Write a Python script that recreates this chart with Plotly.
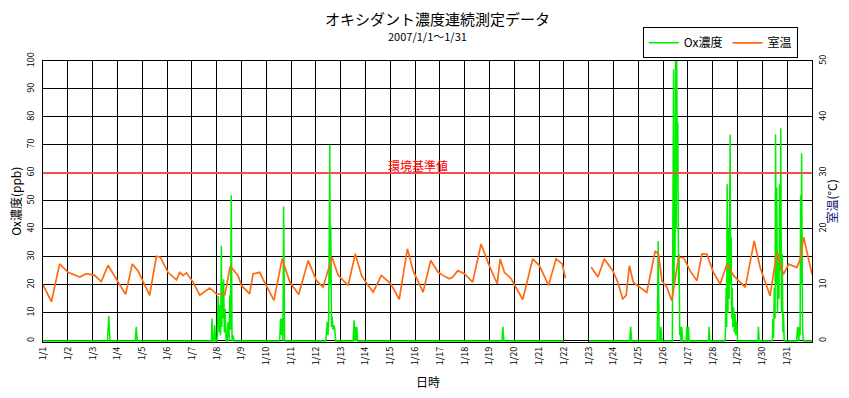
import plotly.graph_objects as go

# ---- data (x = days since 2007-01-01 00:00) ----
day_labels = [f"1/{d}" for d in range(1, 32)]

# Ox concentration (ppb), left axis
ox_day = [0.00, 2.60, 2.65, 2.70, 3.72, 3.76, 3.80,
          6.79, 6.81, 6.85, 6.90, 6.92, 6.96, 7.02, 7.06, 7.10, 7.12, 7.16, 7.19, 7.21, 7.23, 7.26,
          7.28, 7.31, 7.34, 7.38, 7.42, 7.46, 7.50, 7.53, 7.56, 7.59, 7.62, 7.66, 7.70,
          9.54, 9.58, 9.61, 9.64, 9.67, 9.70, 9.74,
          11.40, 11.46, 11.49, 11.52, 11.56, 11.58, 11.60, 11.63, 11.65, 11.69, 11.72, 11.76, 11.80,
          12.50, 12.54, 12.57, 12.59, 12.62, 12.65, 12.68,
          18.50, 18.54, 18.58, 21.00, 21.50, 22.00,
          23.65, 23.69, 23.73,
          24.76, 24.80, 24.84, 24.88, 24.91, 24.95,
          25.37, 25.42, 25.44, 25.46, 25.48, 25.50, 25.53, 25.55, 25.57, 25.59, 25.62, 25.64, 25.67,
          25.69, 25.72, 25.73, 25.75, 25.78, 25.93, 25.95, 25.97, 26.00, 26.02, 26.05,
          26.83, 26.85, 26.88,
          27.50, 27.54, 27.56, 27.58, 27.61, 27.63, 27.66, 27.70, 27.72, 27.74, 27.76, 27.78, 27.81,
          27.84, 27.87, 27.90, 27.93, 27.97, 28.00,
          28.82, 28.84, 28.87,
          29.40, 29.42, 29.45, 29.48, 29.51, 29.53, 29.56, 29.58, 29.61, 29.64, 29.67, 29.69, 29.72,
          29.74, 29.77, 29.80, 29.83, 29.85, 29.88,
          30.38, 30.42, 30.45, 30.47, 30.49, 30.52, 30.54, 30.56, 30.58, 30.60, 30.62, 30.65, 31.00]
ox_ppb = [0, 0, 9, 0, 0, 5, 0,
          0, 8, 0, 0, 5.6, 0, 0, 16, 3, 12.7, 2, 34, 5, 21, 8,
          22, 3, 11.5, 0, 0, 6.8, 0, 16.3, 4, 52, 0, 2, 0,
          0, 8, 2, 8, 0, 48, 0,
          0, 6.8, 2, 10.3, 70, 20, 41, 5, 9, 4, 5.6, 4.4, 0,
          0, 7.4, 0, 5, 0, 5, 0,
          0, 5, 0, 0, None, 0,
          0, 5, 0,
          0, 35.7, 0, 0, 5, 0,
          0, 97, 20, 66, 30, 100, 40, 100, 60, 78, 20, 31, 2,
          5, 0, 0, 5, 0, 0, 5, 0, 0, 5, 0,
          0, 5, 0,
          0, 19, 5, 56, 10, 40, 15, 73.7, 20, 37, 8, 19, 5,
          12, 3, 9.6, 2, 7, 0,
          0, 5, 0,
          0, 7.8, 1, 19, 8, 73.7, 20, 54.7, 10, 31, 15, 56, 25,
          76, 10, 31, 3, 9.6, 0,
          0, 5, 0, 0, 5, 2, 52, 20, 67, 10, 5, 0, 0]

# Room temperature (deg C), right axis
temp_day = [0.00, 0.34, 0.67, 1.01, 1.48, 1.75, 2.08, 2.35, 2.62, 2.76, 3.33, 3.60, 3.83, 4.30,
            4.57, 4.73, 5.04, 5.38, 5.51, 5.65, 5.78, 6.05, 6.32, 6.72, 6.99, 7.33, 7.55, 7.86,
            8.00, 8.33, 8.47, 8.74, 8.87, 9.31, 9.64, 9.95, 10.31, 10.69, 11.02, 11.29, 11.65,
            11.90, 12.30, 12.59, 12.84, 13.01, 13.31, 13.64, 14.02, 14.36, 14.69, 14.92, 15.32,
            15.63, 15.93, 16.12, 16.38, 16.52, 16.72, 16.99, 17.32, 17.66, 17.99, 18.31, 18.43,
            18.60, 18.87, 19.34, 19.74, 20.01, 20.38, 20.68, 20.93, 21.06, 21.50,
            22.10, 22.37, 22.63, 22.97, 23.17, 23.37, 23.51, 23.64, 23.80, 24.07, 24.34, 24.68,
            24.81, 24.95, 25.15, 25.35, 25.62, 25.82, 26.09, 26.36, 26.56, 26.76, 27.03, 27.30,
            27.57, 27.84, 28.04, 28.31, 28.67, 28.91, 29.31, 29.58, 29.85, 30.06, 30.39, 30.52,
            30.66, 30.86, 31.00]
temp_c = [10.0, 7.0, 13.75, 12.25, 11.4, 12.0, 11.7, 10.6, 13.5, 12.5, 8.3, 13.75, 12.5, 8.15,
          15.1, 14.95, 12.25, 10.9, 12.25, 11.7, 12.15, 10.5, 8.15, 9.45, 8.4, 8.25, 13.35, 11.7,
          9.9, 8.4, 12.0, 12.25, 11.0, 7.25, 14.65, 10.5, 8.3, 14.35, 10.8, 9.6, 14.95,
          11.7, 9.9, 15.55, 11.7, 10.5, 8.7, 11.7, 10.2, 7.4, 16.45, 12.55, 8.7,
          14.35, 12.25, 11.7, 11.1, 11.4, 12.55, 12.0, 10.5, 17.3, 13.45, 10.2, 14.65,
          12.25, 11.1, 7.4, 14.65, 13.45, 9.9, 14.65, 13.75, 11.2, None,
          13.15, 11.4, 14.65, 12.55, 10.5, 7.5, 8.15, 13.45, 10.45, 9.55, 8.65, 16.05,
          15.5, 10.75, 9.55, 7.2, 14.9, 14.9, 12.5, 10.75, 15.5, 15.5, 12.2, 10.15,
          13.7, 11.65, 10.75, 9.55, 17.85, 13.1, 8.05, 15.8, 11.9, 13.7, 13.1, 14.6,
          18.55, 14.3, 11.9]

standard_ppb = 60
standard_label = "環境基準値"

FONT = "Noto Sans CJK JP"

fig = go.Figure()
fig.add_trace(go.Scatter(x=ox_day, y=ox_ppb, mode="lines", name="Ox濃度",
                         line=dict(color="#00ee00", width=1.5), connectgaps=False))
fig.add_trace(go.Scatter(x=temp_day, y=temp_c, mode="lines", name="室温", yaxis="y2",
                         line=dict(color="#ff6a10", width=1.7), connectgaps=False))

fig.add_shape(type="line", xref="x", yref="y", x0=0, x1=31, y0=standard_ppb, y1=standard_ppb,
              line=dict(color="#f05050", width=2), layer="above")
fig.add_annotation(x=15.1, y=standard_ppb, xref="x", yref="y", text=standard_label,
                   showarrow=False, yanchor="bottom", yshift=-3,
                   font=dict(color="#ff0000", size=12, family=FONT))

# titles
def note(x, y, text, size, angle=0):
    fig.add_annotation(x=x, y=y, xref="paper", yref="paper", showarrow=False, textangle=angle,
                       xanchor="center", yanchor="middle", text=text,
                       font=dict(size=size, color="black", family=FONT))

note(0.513, 1.153, "オキシダント濃度連続測定データ", 15)
note(0.5, 1.089, "2007/1/1～1/31", 11)
note(-0.036, 0.5, "Ox濃度(ppb)", 12, -90)
note(1.026, 0.5, "<span style='color:#10107a'>室温</span>(°C)", 12, -90)
note(0.5, -0.139, "日時", 12)

fig.update_layout(
    width=849, height=398,
    margin=dict(l=43, r=37, t=61, b=56, autoexpand=False),
    paper_bgcolor="white", plot_bgcolor="white",
    font=dict(family=FONT, color="black"),
    showlegend=True,
    legend=dict(orientation="h", x=0.78, y=1.12, xanchor="left", yanchor="top",
                bordercolor="black", borderwidth=1, bgcolor="white",
                font=dict(size=12, family=FONT), itemwidth=30,
                tracegroupgap=0, traceorder="normal"),
    xaxis=dict(range=[0, 31], tickmode="array", tickvals=list(range(31)), ticktext=day_labels,
               tickangle=-90, tickfont=dict(size=9), showgrid=True, gridcolor="black",
               gridwidth=1.2, showline=True, linecolor="black", linewidth=1.2, mirror=True,
               zeroline=False, ticks="", automargin=False, layer="below traces"),
    yaxis=dict(range=[-0.4, 100], tickvals=list(range(0, 101, 10)), tickangle=-90,
               tickfont=dict(size=9), ticklabelstandoff=4,
               showgrid=True, gridcolor="black", gridwidth=1.2, showline=True,
               linecolor="black", linewidth=1.2, mirror=True, zeroline=False, ticks="",
               automargin=False, layer="below traces"),
    yaxis2=dict(range=[-0.2, 50], tickvals=list(range(0, 51, 10)), overlaying="y", side="right",
                tickangle=-90, tickfont=dict(size=9), ticklabelstandoff=4, showgrid=False,
                zeroline=False, showline=False, ticks="", automargin=False),
)

fig.write_html("out.html", config={"displayModeBar": False},
               post_script="document.body.style.margin='0';")
